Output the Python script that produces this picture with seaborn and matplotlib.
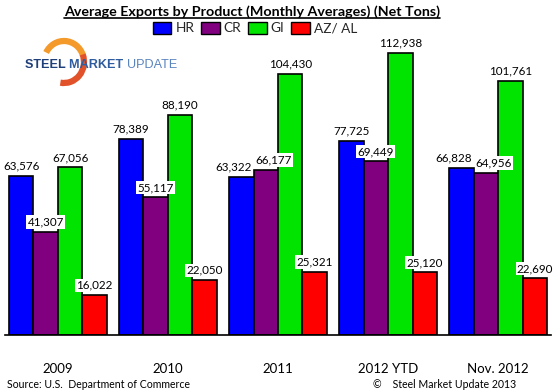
import numpy as np
import pandas as pd
import matplotlib
matplotlib.use("Agg")
import matplotlib.pyplot as plt
import seaborn as sns
from matplotlib.patches import Arc, Patch
from matplotlib.lines import Line2D

categories = ["2009", "2010", "2011", "2012 YTD", "Nov. 2012"]
products = ["HR", "CR", "GI", "AZ/ AL"]
hr = [63576, 78389, 63322, 77725, 66828]
cr = [41307, 55117, 66177, 69449, 64956]
gi = [67056, 88190, 104430, 112938, 101761]
azal = [16022, 22050, 25321, 25120, 22690]
colors = ["#0000FF", "#800080", "#00E400", "#FF0000"]

rows = []
for prod, vals in zip(products, [hr, cr, gi, azal]):
    for c, v in zip(categories, vals):
        rows.append({"Period": c, "Product": prod, "Tons": v})
df = pd.DataFrame(rows)

sns.set_theme(style="white")
plt.rcParams["font.family"] = ["Lato", "DejaVu Sans"]

fig = plt.figure(figsize=(5.57, 3.92), dpi=100)
ax = fig.add_axes([5/557, 1 - 335/392, 546/557, 300/392])

sns.barplot(data=df, x="Period", y="Tons", hue="Product", palette=colors,
            hue_order=products, order=categories, width=0.89, gap=0,
            saturation=1, edgecolor="black", linewidth=1.2, ax=ax, legend=False)

ax.set_ylim(0, 120000)
ax.set_xlim(-0.48, 4.48)
for s in ["top", "left", "right"]:
    ax.spines[s].set_visible(False)
ax.spines["bottom"].set_color("black")
ax.spines["bottom"].set_linewidth(1.2)
ax.set_yticks([])
ax.set_xlabel("")
ax.set_ylabel("")
ax.tick_params(axis="x", length=0, pad=20, labelsize=9.5, colors="black")

labels = []
for cont in ax.containers:
    row = []
    for p in cont:
        h = p.get_height()
        a = ax.annotate(f"{h:,.0f}", (p.get_x() + p.get_width() / 2, h),
                        xytext=(0, 3), textcoords="offset points",
                        ha="center", va="bottom", fontsize=8.4, color="black",
                        bbox=dict(boxstyle="square,pad=0.1", fc="white", ec="none"))
        row.append(a)
    labels.append(row)

# Title
title = fig.text(252/557, 1 - 12/392, "Average Exports by Product (Monthly Averages) (Net Tons)",
                 ha="center", va="center", fontsize=10.3, fontweight="bold", color="black")

# Legend
handles = [Patch(facecolor=c, edgecolor="black", linewidth=1) for c in colors]
fig.legend(handles, products, loc="center", bbox_to_anchor=(255/557, 1 - 28/392), ncol=4,
           frameon=False, fontsize=9.8, handlelength=1.35, handleheight=1.05,
           handletextpad=0.3, columnspacing=0.5, borderaxespad=0)

# Logo (pixel coordinates, y up)
logo_ax = fig.add_axes([0, 0, 1, 1], facecolor="none")
logo_ax.set_xlim(0, 557)
logo_ax.set_ylim(0, 392)
logo_ax.axis("off")
cy = 392 - 62
logo_ax.add_patch(Arc((64, cy), 40, 42, theta1=20, theta2=152, color="#F39A2A", lw=4.5, zorder=1))
logo_ax.add_patch(Arc((64, cy), 40, 42, theta1=-100, theta2=22, color="#E2522A", lw=4.5, zorder=1))

fig.canvas.draw()
r = fig.canvas.get_renderer()
x = 25
for txt, col, wt in [("STEEL ", "#1F3F7A", "bold"), ("MARKET ", "#2F5C9E", "bold"),
                     ("UPDATE", "#5A84BE", "normal")]:
    t = logo_ax.text(x, 392 - 65, txt, fontsize=9.1, fontweight=wt, color=col,
                     family="Liberation Sans", ha="left", va="center", zorder=2)
    bb = t.get_window_extent(r)
    x = x + bb.width

# separate overlapping neighbouring value labels within a group
n_groups = len(categories)
for g in range(n_groups):
    for j in range(len(products) - 1):
        a1, a2 = labels[j][g], labels[j + 1][g]
        b1, b2 = a1.get_window_extent(r), a2.get_window_extent(r)
        if b1.x1 > b2.x0 and b1.y0 < b2.y1 and b2.y0 < b1.y1:
            d = (b1.x1 - b2.x0 + 4) / 2 * 72 / 100
            x1, y1 = a1.xyann
            x2, y2 = a2.xyann
            a1.xyann = (x1 - d, y1)
            a2.xyann = (x2 + d, y2)

# Footer
fig.text(7/557, 1 - 384/392, "Source: U.S.  Department of Commerce", fontsize=7.6,
         ha="left", va="center", color="black")
fig.text(516/557, 1 - 384/392, "©    Steel Market Update 2013", fontsize=7.6,
         ha="right", va="center", color="black")

# underline the title
fig.canvas.draw()
bb = title.get_window_extent(r).transformed(fig.transFigure.inverted())
fig.add_artist(Line2D([bb.x0, bb.x1], [bb.y0 + 0.002, bb.y0 + 0.002], color="black", lw=1.2,
                      transform=fig.transFigure))

fig.savefig("out.png", dpi=100)
